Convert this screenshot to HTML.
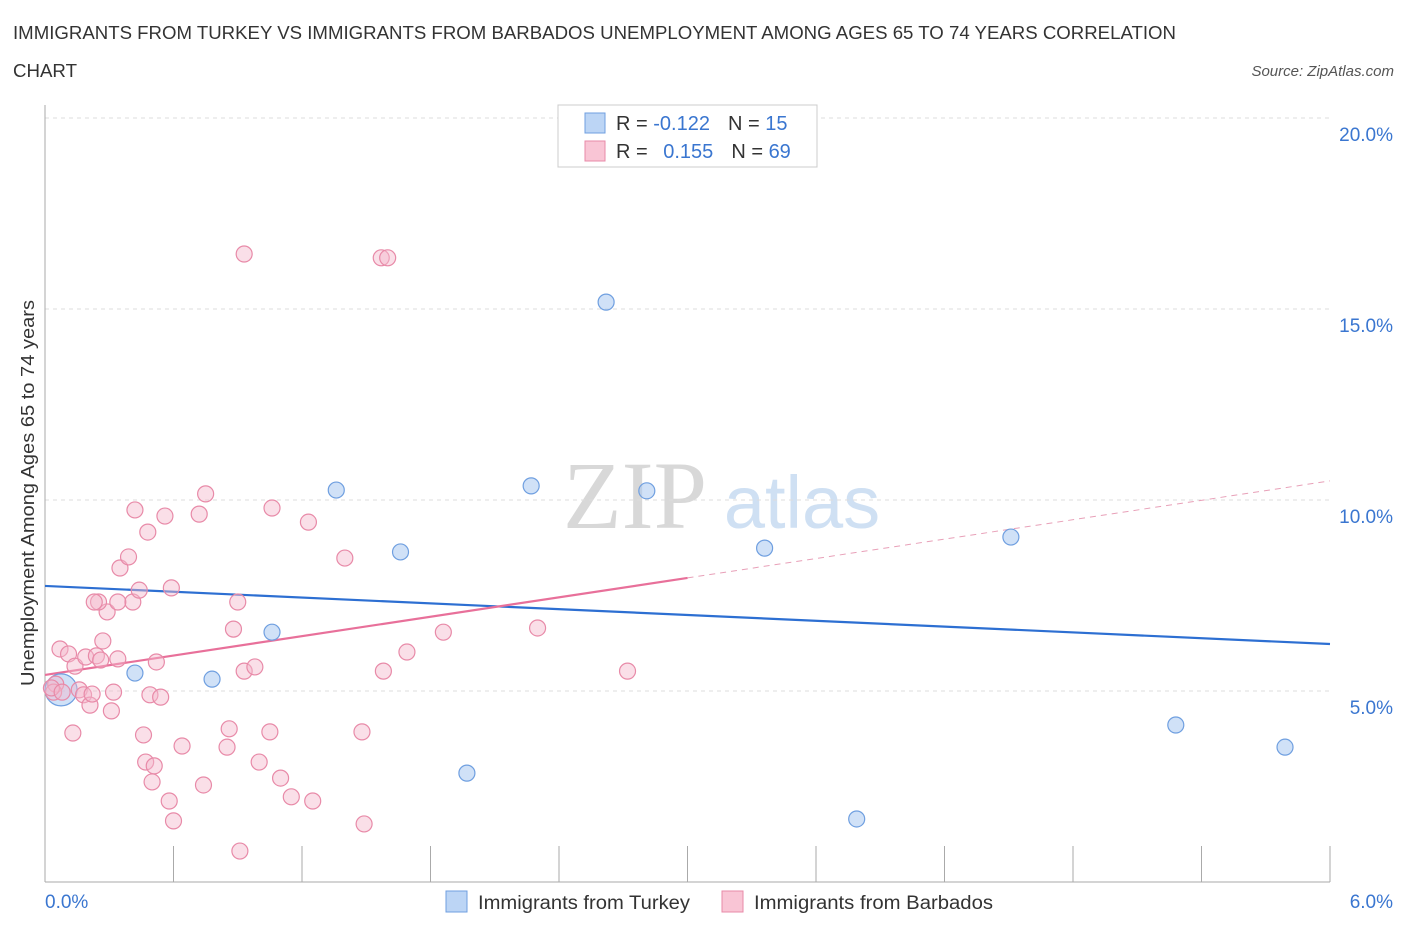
<!DOCTYPE html>
<html><head><meta charset="utf-8"><style>
body{margin:0;background:#fff;font-family:"Liberation Sans",sans-serif;}
</style></head><body>
<svg id="chart" width="1406" height="930" xmlns="http://www.w3.org/2000/svg" style="font-family:'Liberation Sans',sans-serif">
<text x="13" y="39" font-size="18" fill="#333" textLength="1163" lengthAdjust="spacingAndGlyphs">IMMIGRANTS FROM TURKEY VS IMMIGRANTS FROM BARBADOS UNEMPLOYMENT AMONG AGES 65 TO 74 YEARS CORRELATION</text>
<text x="13" y="77" font-size="18" fill="#333" textLength="64" lengthAdjust="spacingAndGlyphs">CHART</text>
<text x="1394" y="76" font-size="15" fill="#555" text-anchor="end" font-style="italic">Source: ZipAtlas.com</text>
<g>
<text x="635" y="528" font-size="96" fill="#d8d8d8" font-family="Liberation Serif" text-anchor="middle">ZIP</text>
<text x="802" y="528" font-size="74" fill="#cfe0f3" text-anchor="middle">atlas</text>
</g>
<g id="grid"></g><g id="axes"></g><g id="lines"></g><g id="pts"></g>
<text transform="translate(34,493) rotate(-90)" font-size="18" fill="#333" text-anchor="middle" textLength="386" lengthAdjust="spacingAndGlyphs">Unemployment Among Ages 65 to 74 years</text>
<g>
<rect x="558" y="105" width="259" height="62" fill="#fff" stroke="#ccc"/>
<rect x="585" y="113" width="20" height="20" fill="#bcd5f5" stroke="#6f9fe0"/>
<rect x="585" y="141" width="20" height="20" fill="#f9c5d5" stroke="#e88aa8"/>
<text x="616" y="130" font-size="20" fill="#333">R = <tspan fill="#3a76d0">-0.122</tspan><tspan dx="18">N = </tspan><tspan fill="#3a76d0">15</tspan></text>
<text x="616" y="158" font-size="20" fill="#333">R = <tspan fill="#3a76d0" dx="10">0.155</tspan><tspan dx="18">N = </tspan><tspan fill="#3a76d0">69</tspan></text>
</g>
<g>
<rect x="446" y="891" width="21" height="21" fill="#bcd5f5" stroke="#6f9fe0"/>
<text x="478" y="909" font-size="19" fill="#333" textLength="212" lengthAdjust="spacingAndGlyphs">Immigrants from Turkey</text>
<rect x="722" y="891" width="21" height="21" fill="#f9c5d5" stroke="#e88aa8"/>
<text x="754" y="909" font-size="19" fill="#333" textLength="239" lengthAdjust="spacingAndGlyphs">Immigrants from Barbados</text>
</g>
</svg>
<script>
const xTicks=[0,6];
const yTicks=[5,10,15,20];
const turkeyX=[0.075,0.42,0.78,1.06,1.36,1.66,1.97,2.27,2.62,2.81,3.36,3.79,4.51,5.28,5.79];
const turkeyY=[5.03,5.47,5.31,6.54,10.26,8.64,2.85,10.37,15.18,10.24,8.74,1.65,9.03,4.11,3.53];
const barbX=[0.93,1.57,1.60,0.05,0.07,0.11,0.14,0.16,0.13,0.04,0.03,0.18,0.21,0.22,0.19,0.24,0.27,0.29,0.31,0.32,0.34,0.25,0.23,0.35,0.39,0.41,0.42,0.44,0.46,0.47,0.51,0.50,0.48,0.49,0.52,0.54,0.56,0.58,0.60,0.59,0.64,0.72,0.74,0.75,0.86,0.85,0.88,0.90,0.91,0.93,0.98,1.00,1.05,1.06,1.10,1.15,1.23,1.25,1.40,1.48,1.49,1.58,1.69,1.86,2.30,2.72,0.08,0.34,0.26];
const barbY=[16.44,16.34,16.34,5.18,6.10,5.97,5.65,5.03,3.90,4.97,5.08,4.90,4.63,4.92,5.89,5.92,6.31,7.07,4.48,4.97,5.84,7.33,7.33,8.22,8.51,7.33,9.74,7.64,3.85,3.14,3.04,2.62,9.16,4.90,5.76,4.84,9.58,2.12,1.60,7.70,3.56,9.63,2.54,10.16,4.01,3.53,6.62,7.33,0.81,5.52,5.63,3.14,3.93,9.79,2.72,2.23,9.42,2.12,8.48,3.93,1.52,5.52,6.02,6.54,6.65,5.52,4.97,7.33,5.81];
const turkeyTrend=[7.75,6.23];
const barbTrend=[5.42,10.50];
const barbSolidEnd=3.0;
const X0=45,X1=1330,Y0=882,Y20=118;
const sx=v=>X0+(X1-X0)*v/6;
const sy=v=>Y0-(Y0-Y20)*v/20;
const NS="http://www.w3.org/2000/svg";
function mk(p,t,a){const e=document.createElementNS(NS,t);for(const k in a)e.setAttribute(k,a[k]);document.getElementById(p).appendChild(e);return e;}
yTicks.forEach(v=>{
 const g=mk('grid','line',{x1:X0,x2:X1,y1:sy(v),y2:sy(v),stroke:'#ddd','stroke-dasharray':'4,4'});
 
 
 const t=mk('axes','text',{x:1393,y:sy(v)+23,'font-size':19,fill:'#3a76d0','text-anchor':'end'});
 t.textContent=v.toFixed(1)+'%';
 
 
});
const ax=mk('axes','line',{x1:X0,x2:X1,y1:Y0,y2:Y0,stroke:'#aaa'});


const ay=mk('axes','line',{x1:X0,x2:X0,y1:105,y2:Y0,stroke:'#aaa'});


for(let i=0;i<=10;i++){
 const tk=mk('axes','line',{x1:sx(i*0.6),x2:sx(i*0.6),y1:Y0-36,y2:Y0,stroke:'#aaa'});
 
 
}
xTicks.forEach((v,i)=>{
 const t=mk('axes','text',{x:i?1393:45,y:908,'font-size':19,fill:'#3a76d0','text-anchor':i?'end':'start'});
 t.textContent=v.toFixed(1)+'%';
 
 
});
turkeyX.forEach((x,i)=>{
 const c=mk('pts','circle',{cx:sx(x),cy:sy(turkeyY[i]),r:i==0?16:8,fill:'#a9c8f0','fill-opacity':0.55,stroke:'#6f9fe0','stroke-width':1.2});
 
 
});
barbX.forEach((x,i)=>{
 const c=mk('pts','circle',{cx:sx(x),cy:sy(barbY[i]),r:8,fill:'#f5b8cb','fill-opacity':0.45,stroke:'#e88aa8','stroke-width':1.2});
 
 
});
const bl=mk('lines','line',{x1:sx(0),y1:sy(turkeyTrend[0]),x2:sx(6),y2:sy(turkeyTrend[1]),stroke:'#2d6fd2','stroke-width':2.2});


const pm=barbTrend[0]+(barbTrend[1]-barbTrend[0])*barbSolidEnd/6;
const pl=mk('lines','line',{x1:sx(0),y1:sy(barbTrend[0]),x2:sx(barbSolidEnd),y2:sy(pm),stroke:'#e8709a','stroke-width':2.2});


const pd=mk('lines','line',{x1:sx(barbSolidEnd),y1:sy(pm),x2:sx(6),y2:sy(barbTrend[1]),stroke:'#e8a0b8','stroke-width':1,'stroke-dasharray':'6,5'});


</script>
</body></html>
